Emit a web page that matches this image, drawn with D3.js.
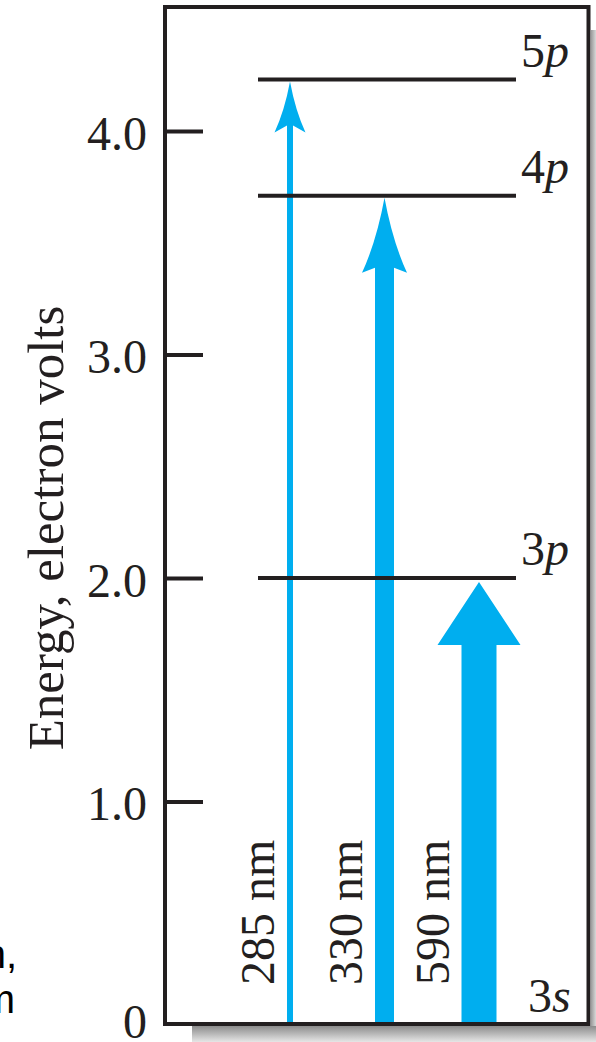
<!DOCTYPE html>
<html>
<head>
<meta charset="utf-8">
<script src="https://cdn.jsdelivr.net/npm/d3@7"></script>
<style>
  html, body { margin: 0; padding: 0; background: #fff; }
  svg { display: block; }
</style>
</head>
<body>
<svg id="chart" width="596" height="1042"></svg>
<script>
// Sodium energy levels, in electron volts
const levelNames = ["3s", "3p", "4p", "5p"];
const levelEnergies = [0, 2.0, 3.71, 4.23];

// Absorption lines, each one a jump up from the 3s ground state
const transitionLabels = ["285 nm", "330 nm", "590 nm"];
const transitionUpper = ["5p", "4p", "3p"];

// Energy axis
const tickValues = [0, 1, 2, 3, 4];
const tickLabels = ["0", "1.0", "2.0", "3.0", "4.0"];
const axisTitle = "Energy, electron volts";

// Drawing styles for the three arrows (thin, medium, heavy)
const arrowStyle = [
  { shaft: 6,  head: 31, len: 51, notch: 7, bow: 0.30 },
  { shaft: 19, head: 45, len: 75, notch: 5, bow: 0.30 },
  { shaft: 35, head: 83, len: 63, notch: 0, bow: 0.0 }
];
const arrowTipGap = [2, 2, 4];

const ink = "#231f20";
const blue = "#00aeef";
const serif = "'Liberation Serif', 'Times New Roman', serif";

const svg = d3.select("#chart");
const frame = { left: 165, right: 588.5, top: 7, bottom: 1024 };

const y = d3.scaleLinear().domain([0, 4]).range([1025, 131]);
const x = d3.scalePoint().domain(transitionLabels).range([290, 479]);
const energyOf = name => levelEnergies[levelNames.indexOf(name)];

// Drop shadow behind the frame
const defs = svg.append("defs");
const gb = defs.append("linearGradient").attr("id", "shadowB")
  .attr("x1", 0).attr("y1", 0).attr("x2", 0).attr("y2", 1);
gb.append("stop").attr("offset", 0).attr("stop-color", "#8c8c8c");
gb.append("stop").attr("offset", 1).attr("stop-color", "#e6e6e6");
const gr = defs.append("linearGradient").attr("id", "shadowR")
  .attr("x1", 0).attr("y1", 0).attr("x2", 1).attr("y2", 0);
gr.append("stop").attr("offset", 0).attr("stop-color", "#9a9a9a");
gr.append("stop").attr("offset", 1).attr("stop-color", "#d8d8d8");

svg.append("rect").attr("x", 192).attr("y", frame.bottom + 2)
  .attr("width", 596 - 192).attr("height", 1042 - frame.bottom - 2)
  .attr("fill", "url(#shadowB)");
svg.append("rect").attr("x", frame.right + 2.5).attr("y", 30)
  .attr("width", 596 - frame.right - 2.5).attr("height", frame.bottom - 28)
  .attr("fill", "url(#shadowR)");

// Frame background
svg.append("rect")
  .attr("x", frame.left).attr("y", frame.top)
  .attr("width", frame.right - frame.left).attr("height", frame.bottom - frame.top)
  .attr("fill", "#fff");

// Arrows: shaft from the ground state, head reaching the upper level
function arrowPath(cx, yTip, yBase, s) {
  const w = s.shaft / 2, hw = s.head / 2;
  const yBarb = yTip + s.len;
  const yNeck = yBarb - s.notch;
  const p = d3.path();
  p.moveTo(cx - w, yBase);
  p.lineTo(cx - w, yNeck);
  p.lineTo(cx - hw, yBarb);
  // concave flanks bow in toward the centre line
  const cxl = (cx - hw / 2) + s.bow * hw / 2;
  const cyl = yTip + s.len / 2 + s.bow * s.len * 0.25;
  p.quadraticCurveTo(cxl, cyl, cx, yTip);
  const cxr = (cx + hw / 2) - s.bow * hw / 2;
  p.quadraticCurveTo(cxr, cyl, cx + hw, yBarb);
  p.lineTo(cx + w, yNeck);
  p.lineTo(cx + w, yBase);
  p.closePath();
  return p.toString();
}

const arrows = svg.append("g").attr("class", "transitions");
transitionLabels.forEach((label, i) => {
  const cx = x(label);
  const s = arrowStyle[i];
  const yTip = y(energyOf(transitionUpper[i])) + arrowTipGap[i];
  arrows.append("path")
    .attr("d", arrowPath(cx, yTip, y(energyOf("3s")), s))
    .attr("fill", blue);
  arrows.append("text")
    .attr("transform", `translate(${cx - s.shaft / 2 - 13},985) rotate(-90)`)
    .attr("font-family", serif)
    .attr("font-size", 48)
    .attr("fill", ink)
    .text(label);
});

// Energy level lines (ground state is the frame floor)
const levels = svg.append("g").attr("class", "levels");
levelNames.forEach((name, i) => {
  const yy = y(levelEnergies[i]);
  if (levelEnergies[i] > 0) {
    levels.append("line")
      .attr("x1", 258).attr("x2", 516)
      .attr("y1", yy).attr("y2", yy)
      .attr("stroke", ink).attr("stroke-width", 4);
  }
  const t = levels.append("text")
    .attr("x", levelEnergies[i] > 0 ? 521 : 528)
    .attr("y", yy - 13)
    .attr("font-family", serif)
    .attr("font-size", 48)
    .attr("fill", ink);
  t.append("tspan").text(name.slice(0, 1));
  t.append("tspan").attr("font-style", "italic").text(name.slice(1));
});

// Axis with ticks pointing into the frame
const axis = d3.axisLeft(y)
  .tickValues(tickValues)
  .tickFormat((d, i) => tickLabels[i])
  .tickSizeInner(-38)
  .tickSizeOuter(0)
  .tickPadding(18);

const ax = svg.append("g")
  .attr("transform", `translate(${frame.left},0)`)
  .call(axis);
ax.select(".domain").remove();
ax.selectAll(".tick line")
  .attr("stroke", ink).attr("stroke-width", 4)
  .attr("display", d => d === 0 ? "none" : null);
ax.selectAll(".tick text")
  .attr("font-family", serif)
  .attr("font-size", 48)
  .attr("fill", ink)
  .attr("dy", d => d === 0 ? "0.26em" : "0.38em");

// Frame border
svg.append("rect")
  .attr("x", frame.left).attr("y", frame.top)
  .attr("width", frame.right - frame.left).attr("height", frame.bottom - frame.top)
  .attr("fill", "none").attr("stroke", ink).attr("stroke-width", 4);

// Axis title
svg.append("text")
  .attr("transform", "translate(63,528) rotate(-90)")
  .attr("text-anchor", "middle")
  .attr("font-family", serif)
  .attr("font-size", 51)
  .attr("fill", ink)
  .text(axisTitle);

// Tail of the neighbouring caption text
const caption = svg.append("g")
  .attr("font-family", "'Liberation Sans', Arial, sans-serif")
  .attr("font-size", 40)
  .attr("fill", "#000")
  .attr("text-anchor", "end");
caption.append("text").attr("x", 17).attr("y", 968).text("n,");
caption.append("text").attr("x", 15).attr("y", 1013).text("m");
</script>
</body>
</html>
